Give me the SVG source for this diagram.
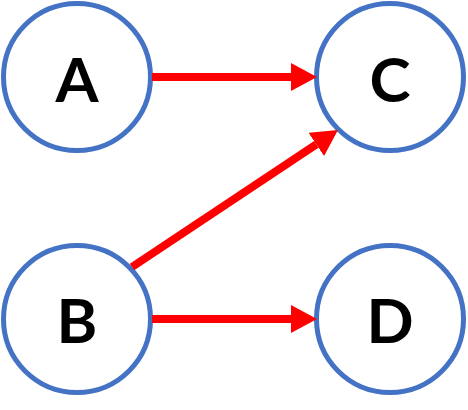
<svg xmlns="http://www.w3.org/2000/svg" width="468" height="410" viewBox="0 0 468 410">
<style>
.node circle{fill:#fff;stroke:#4472C4;stroke-width:5}
.node text{font-family:Lato,"Open Sans",sans-serif;font-weight:bold;font-size:62px;fill:#000;text-anchor:middle}
.edge{stroke:#FF0000;stroke-width:8;fill:none}
</style>
<defs>
<marker id="ah" markerUnits="userSpaceOnUse" markerWidth="26" markerHeight="28" viewBox="0 0 26 28" refX="0" refY="14" orient="auto">
<path d="M0,0 L26,14 L0,28 z" fill="#FF0000"/>
</marker>
</defs>
<g id="node-A" class="node"><circle cx="77" cy="77" r="73.5"/><text x="77" y="102">A</text></g>
<g id="node-C" class="node"><circle cx="390" cy="77" r="73.5"/><text x="390" y="102">C</text></g>
<g id="node-B" class="node"><circle cx="77" cy="319" r="73.5"/><text x="77" y="343">B</text></g>
<g id="node-D" class="node"><circle cx="390" cy="319" r="73.5"/><text x="390" y="343">D</text></g>
<g id="connectors">
<line class="edge" x1="152" y1="77" x2="291" y2="77" marker-end="url(#ah)"/>
<line class="edge" x1="132" y1="267" x2="316.3" y2="144.4" marker-end="url(#ah)"/>
<line class="edge" x1="152" y1="319" x2="291" y2="319" marker-end="url(#ah)"/>
</g>
</svg>
